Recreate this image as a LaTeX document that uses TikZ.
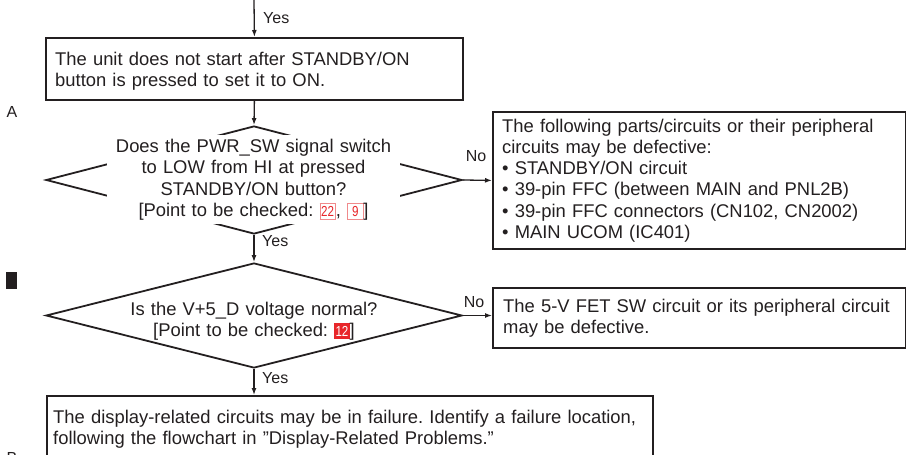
\documentclass[tikz,border=0pt]{standalone}
\usepackage{fontspec}
\setmainfont{Liberation Sans}
\usetikzlibrary{shapes.geometric,arrows.meta}
\definecolor{ink}{HTML}{231F20}
\definecolor{ptred}{HTML}{E8262A}
\definecolor{ptline}{HTML}{F08A8C}
\frenchspacing
\newcommand{\ptopen}[1]{{\setlength{\fboxsep}{0.6pt}\setlength{\fboxrule}{0.8pt}\fcolorbox{ptline}{white}{\rule[-1.5pt]{0pt}{14pt}\makebox[13.5pt]{\fontsize{14.5}{14.5}\selectfont\color{ptred}\scalebox{0.8}[1]{#1}}}}}
\newcommand{\ptfill}[1]{{\setlength{\fboxsep}{1.2pt}\colorbox{ptred}{\rule[-1.5pt]{0pt}{13.5pt}\makebox[13pt]{\fontsize{14.5}{14.5}\selectfont\color{white}\scalebox{0.8}[1]{#1}}}}}
\tikzset{
  box/.style={draw=ink, line width=1.8pt, rectangle, inner sep=0pt, anchor=north west},
  dia/.style={draw=ink, line width=1.8pt, diamond, inner sep=0pt},
  txt/.style={inner sep=0pt, anchor=base west, align=left, text=ink, font=\fontsize{18.4}{21.3}\selectfont},
  ctxt/.style={inner sep=0pt, anchor=base, align=center, text=ink, font=\fontsize{18.4}{21.5}\selectfont},
  lab/.style={inner sep=0pt, text=ink, font=\fontsize{16}{16}\selectfont},
  arr/.style={draw=ink, line width=1.3pt, -{Latex[length=7pt,width=5pt]}}
}
\begin{document}
\begin{tikzpicture}[x=1pt,y=-1pt]
\useasboundingbox (0,0) rectangle (906,455);
% boxes
\node[box, minimum width=417pt, minimum height=62pt] (b1) at (45,37) {};
\node[box, minimum width=413pt, minimum height=137pt] (b2) at (492,111) {};
\node[box, minimum width=413pt, minimum height=60pt] (b3) at (492,287) {};
\node[box, minimum width=606pt, minimum height=80pt] (b4) at (46,395) {};
% diamonds
\node[dia, minimum width=416pt, minimum height=108pt] (d1) at (254,180) {};
\node[dia, minimum width=416pt, minimum height=105pt] (d2) at (254,315.5) {};
% texts
\node[txt, text width=400pt, font=\fontsize{18.4}{21}\selectfont] (t1) at (55,65) {The unit does not start after STANDBY/ON\\button is pressed to set it to ON.};
\node[txt, text width=400pt] (t2) at (502,132) {The following parts/circuits or their peripheral\\circuits may be defective:\\• STANDBY/ON circuit\\• 39-pin FFC (between MAIN and PNL2B)\\• 39-pin FFC connectors (CN102, CN2002)\\• MAIN UCOM (IC401)};
\node[txt, text width=400pt] (t3) at (503,312) {The 5-V FET SW circuit or its peripheral circuit\\may be defective.};
\node[txt, text width=600pt] (t4) at (53,423) {The display-related circuits may be in failure. Identify a failure location,\\following the flowchart in \symbol{34}Display-Related Problems.\symbol{34}};
\node[ctxt, text width=293pt, fill=white, inner ysep=4pt] (q1) at (253.5,152) {Does the PWR\_SW signal switch\\to LOW from HI at pressed\\STANDBY/ON button?\\{}[Point to be checked: \ptopen{22}, \ptopen{9}]};
\node[ctxt, text width=300pt] (q2) at (254,315) {Is the V+5\_D voltage normal?\\{}[Point to be checked: \ptfill{12}]};
% connectors
\coordinate (top) at (254,0);
\draw[arr] (top) -- (b1.north);
\draw[arr] (b1.south) -- (d1.north);
\draw[arr] (d1.east) -- (b2.west);
\draw[arr] (d1.south) -- (d2.north);
\draw[arr] (d2.east) -- (d2.east -| b3.west);
\draw[arr] (d2.south) -- (d2.south |- b4.north);
% labels
\node[lab, anchor=west] (y1) at (263,18) {Yes};
\node[lab, anchor=west] (y2) at (262,241) {Yes};
\node[lab, anchor=west] (y3) at (262,378) {Yes};
\node[lab] (n1) at (476,156) {No};
\node[lab] (n2) at (474,302) {No};
\node[lab] (la) at (12,112) {A};
\node[lab] (lb) at (12,458) {B};
\fill[ink] (6,272) rectangle (17,289);
\end{tikzpicture}
\end{document}
